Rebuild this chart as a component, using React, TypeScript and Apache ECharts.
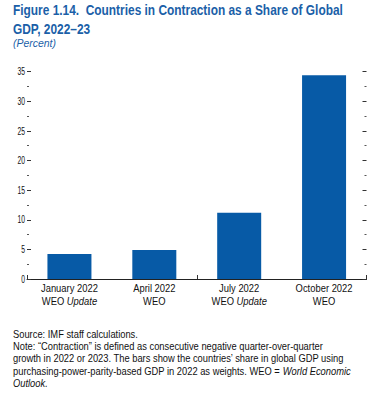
import React, { useEffect, useRef } from "react";
import * as echarts from "echarts";

const categoryLine1 = ["January 2022", "April 2022", "July 2022", "October 2022"];
const categoryLine2 = ["WEO", "WEO", "WEO", "WEO"];
const categoryLine2Italic = ["Update", "", "Update", ""];
const shareValues = [4.2, 4.9, 11.2, 34.4];
const yMin = 0;
const yMax = 35;
const yInterval = 5;
const yTickLabels = ["0", "5", "10", "15", "20", "25", "30", "35"];

const titleLines = [
  "Figure 1.14.  Countries in Contraction as a Share of Global",
  "GDP, 2022\u201323",
];
const unitText = "(Percent)";
const noteLines = [
  "Source: IMF staff calculations.",
  "Note: \u201cContraction\u201d is defined as consecutive negative quarter-over-quarter",
  "growth in 2022 or 2023. The bars show the countries\u2019 share in global GDP using",
  "purchasing-power-parity-based GDP in 2022 as weights. WEO = {i|World Economic}",
  "{i|Outlook.}",
];

const FONT = "'Liberation Sans', Arial, sans-serif";
const BLUE = "#1b5fa8";
const BAR = "#075aa6";
const INK = "#111111";

function measure(text: string, size: number, weight = "normal", style = "normal") {
  const ctx = document.createElement("canvas").getContext("2d");
  if (!ctx) return text.length * size * 0.55;
  ctx.font = `${style} ${weight} ${size}px 'Liberation Sans', Arial, sans-serif`;
  return ctx.measureText(text).width;
}

export default function App() {
  const ref = useRef<HTMLDivElement>(null);
  useEffect(() => {
    if (!ref.current) return;
    const chart = echarts.init(ref.current, undefined, { renderer: "svg" });
    const yAxisCommon = {
      type: "value" as const,
      min: yMin,
      max: yMax,
      interval: yInterval,
      axisLine: { show: false },
      axisLabel: { show: false },
      axisTick: { show: true, inside: true, length: 4, lineStyle: { color: "#333", width: 1 } },
      minorTick: { show: true, splitNumber: 2, length: 2, lineStyle: { color: "#555", width: 1 } },
      splitLine: { show: false },
    };
    chart.setOption({
      animation: false,
      textStyle: { fontFamily: FONT },
      grid: { left: 27, right: 8.5, top: 71.7, bottom: 115, containLabel: false },
      xAxis: {
        type: "category",
        data: categoryLine1,
        axisLine: { show: true, lineStyle: { color: "#222", width: 1 } },
        axisTick: { show: true, inside: true, length: 4, lineStyle: { color: "#333" } },
        axisLabel: { show: false },
      },
      yAxis: [
        { ...yAxisCommon, position: "left" },
        { ...yAxisCommon, position: "right" },
      ],
      series: [
        {
          type: "bar",
          data: shareValues,
          barWidth: 44,
          itemStyle: { color: BAR },
        },
      ],
    });

    // condensed look: scale regular font horizontally to match reference widths
    const titleSize = 13.8;
    const titleScale = 330 / measure(titleLines[0], titleSize, "bold");
    const unitSize = 11;
    const unitScale = 43 / measure(unitText, unitSize, "normal", "italic");
    const noteSize = 10.4;
    const noteScale = 125 / measure(noteLines[0], noteSize);
    const xlSize = 11;
    const xlScale = 57 / measure(categoryLine1[0], xlSize);
    const ylSize = 10.6;
    const ylScale = 7.5 / measure("35", ylSize);

    const graphics: any[] = [];
    titleLines.forEach((t, i) => {
      graphics.push({
        type: "text",
        x: 13,
        y: i === 0 ? 10 : 29,
        scaleX: titleScale,
        style: {
          text: t,
          fontSize: titleSize,
          fontWeight: "bold",
          fill: BLUE,
          fontFamily: FONT,
          textAlign: "left",
          textVerticalAlign: "middle",
        },
      });
    });
    graphics.push({
      type: "text",
      x: 13,
      y: 43,
      scaleX: unitScale,
      style: {
        text: unitText,
        fontSize: unitSize,
        fontStyle: "italic",
        fill: BLUE,
        fontFamily: FONT,
        textAlign: "left",
        textVerticalAlign: "middle",
      },
    });
    const noteY = [334, 346.5, 358.8, 371.1, 383.4];
    noteLines.forEach((t, i) => {
      graphics.push({
        type: "text",
        x: 13,
        y: noteY[i],
        scaleX: noteScale,
        style: {
          text: t,
          fontSize: noteSize,
          fill: INK,
          fontFamily: FONT,
          textAlign: "left",
          textVerticalAlign: "middle",
          rich: {
            i: { fontStyle: "italic", fontSize: noteSize, fill: INK, fontFamily: FONT },
          },
        },
      });
    });
    categoryLine1.forEach((name, i) => {
      const cx = chart.convertToPixel({ xAxisIndex: 0 }, name) as number;
      graphics.push({
        type: "text",
        x: cx,
        y: 288.5,
        scaleX: xlScale,
        style: {
          text: name,
          fontSize: xlSize,
          fill: INK,
          fontFamily: FONT,
          textAlign: "center",
          textVerticalAlign: "middle",
        },
      });
      const it = categoryLine2Italic[i];
      graphics.push({
        type: "text",
        x: cx,
        y: 301,
        scaleX: xlScale,
        style: {
          text: it ? `${categoryLine2[i]} {i|${it}}` : categoryLine2[i],
          fontSize: xlSize,
          fill: INK,
          fontFamily: FONT,
          textAlign: "center",
          textVerticalAlign: "middle",
          rich: { i: { fontStyle: "italic", fontSize: xlSize, fill: INK, fontFamily: FONT } },
        },
      });
    });
    yTickLabels.forEach((lab) => {
      const py = chart.convertToPixel({ yAxisIndex: 0 }, Number(lab)) as number;
      graphics.push({
        type: "text",
        x: 25,
        y: py,
        scaleX: ylScale,
        style: {
          text: lab,
          fontSize: ylSize,
          fill: INK,
          fontFamily: FONT,
          textAlign: "right",
          textVerticalAlign: "middle",
        },
      });
    });
    chart.setOption({ graphic: graphics });
    return () => chart.dispose();
  }, []);
  return (
    <div
      ref={ref}
      style={{ position: "fixed", left: 0, top: 0, width: 375, height: 394, background: "#fff" }}
    />
  );
}
